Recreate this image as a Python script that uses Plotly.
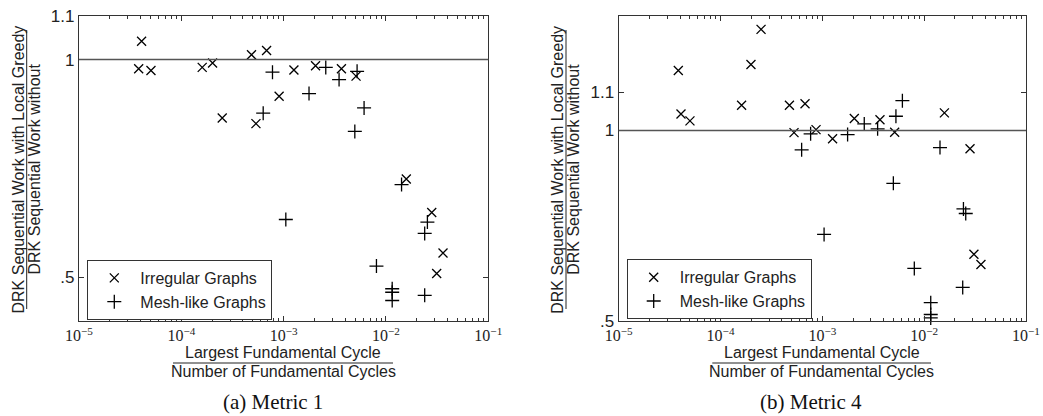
import plotly.graph_objects as go

# ---------------- data ----------------
# (a) Metric 1
a_irr_x = [4.09e-5, 3.83e-5, 5.05e-5, 1.60e-4, 2.02e-4, 2.51e-4, 4.85e-4, 6.81e-4, 5.36e-4,
           9.03e-4, 1.26e-3, 2.05e-3, 3.67e-3, 5.10e-3, 1.58e-2, 2.80e-2, 3.61e-2, 3.13e-2]
a_irr_y = [1.042, 0.979, 0.975, 0.982, 0.992, 0.866, 1.011, 1.021, 0.853,
           0.916, 0.976, 0.986, 0.979, 0.962, 0.726, 0.649, 0.556, 0.509]
a_mesh_x = [7.78e-4, 6.31e-4, 1.77e-3, 2.58e-3, 3.48e-3, 5.22e-3, 6.11e-3, 4.96e-3, 1.05e-3,
            1.42e-2, 2.54e-2, 2.39e-2, 8.07e-3, 1.15e-2, 1.15e-2, 1.15e-2, 2.39e-2]
a_mesh_y = [0.971, 0.877, 0.922, 0.982, 0.954, 0.973, 0.889, 0.835, 0.633,
            0.713, 0.627, 0.601, 0.526, 0.474, 0.466, 0.447, 0.459]

# (b) Metric 4
b_irr_x = [3.85e-5, 4.09e-5, 5.01e-5, 1.61e-4, 1.99e-4, 2.50e-4, 4.75e-4, 6.76e-4, 5.27e-4,
           8.67e-4, 1.26e-3, 2.06e-3, 3.68e-3, 5.13e-3, 1.58e-2, 2.82e-2, 3.08e-2, 3.61e-2]
b_irr_y = [1.157, 1.043, 1.025, 1.066, 1.173, 1.265, 1.066, 1.070, 0.994,
           1.002, 0.978, 1.031, 1.028, 0.995, 1.046, 0.952, 0.675, 0.648]
b_mesh_x = [7.67e-4, 6.26e-4, 1.77e-3, 2.58e-3, 3.49e-3, 5.28e-3, 6.11e-3, 4.98e-3, 1.04e-3,
            1.43e-2, 2.43e-2, 2.56e-2, 8.00e-3, 2.39e-2, 1.16e-2, 1.16e-2, 1.16e-2]
b_mesh_y = [0.991, 0.949, 0.989, 1.017, 1.004, 1.037, 1.078, 0.861, 0.727,
            0.955, 0.794, 0.782, 0.638, 0.588, 0.548, 0.517, 0.508]

x_tickvals = [1e-5, 1e-4, 1e-3, 1e-2, 1e-1]
x_ticktext = ["10<sup>\u22125</sup>", "10<sup>\u22124</sup>", "10<sup>\u22123</sup>",
              "10<sup>\u22122</sup>", "10<sup>\u22121</sup>"]
x_minor = [m * 10.0 ** e for e in range(-5, -1) for m in range(2, 10)]
y_tickvals = [0.5, 1.0, 1.1]
y_ticktext = [".5", "1", "1.1"]

series_names = ["Irregular Graphs", "Mesh-like Graphs"]
ytitle_num = "DRK Sequential Work with Local Greedy"
ytitle_den = "DRK Sequential Work without"
xtitle_num = "Largest Fundamental Cycle"
xtitle_den = "Number of Fundamental Cycles"
captions = ["(a) Metric 1", "(b) Metric 4"]

# ---------------- layout helpers ----------------
W, H = 1043, 416
SANS = "Liberation Sans, Arial, sans-serif"
SERIF = "Liberation Serif, Times New Roman, serif"
FRAME = "#333333"


def px(x):
    return x / W


def py(y):
    return 1 - y / H


fig = go.Figure()

mk_x = dict(symbol="x-thin-open", size=9, color="black", line=dict(width=1.3, color="black"))
mk_p = dict(symbol="cross-thin-open", size=10, color="black", line=dict(width=1.3, color="black"))

panels = [
    ("x", "y", "legend", a_irr_x, a_irr_y, a_mesh_x, a_mesh_y),
    ("x2", "y2", "legend2", b_irr_x, b_irr_y, b_mesh_x, b_mesh_y),
]
for xa, ya, lg, ix, iy, mx, my in panels:
    fig.add_trace(go.Scatter(x=ix, y=iy, mode="markers", marker=mk_x, name=series_names[0],
                             xaxis=xa, yaxis=ya, legend=lg, cliponaxis=False))
    fig.add_trace(go.Scatter(x=mx, y=my, mode="markers", marker=mk_p, name=series_names[1],
                             xaxis=xa, yaxis=ya, legend=lg, cliponaxis=False))

xdomains = [[px(79), px(488.3)], [px(618.7), px(1026)]]
ydomain = [py(321), py(16)]
yranges = [[0.4, 1.1], [0.5, 1.3]]

common_x = dict(type="log", range=[-5, -1], tickmode="array", tickvals=x_tickvals,
                ticktext=x_ticktext, ticks="inside", ticklen=5, tickwidth=1, tickcolor=FRAME,
                showline=True, linecolor=FRAME, linewidth=1.2, mirror="ticks", showgrid=False,
                zeroline=False, automargin=False,
                tickfont=dict(family=SERIF, size=16, color="#222"),
                minor=dict(tickmode="array", tickvals=x_minor, ticks="inside", ticklen=2.5,
                           tickwidth=1, tickcolor=FRAME, showgrid=False))
common_y = dict(tickmode="array", tickvals=y_tickvals, ticktext=y_ticktext, ticks="inside",
                ticklen=5, tickwidth=1, tickcolor=FRAME, showline=True, linecolor=FRAME,
                linewidth=1.2, mirror="ticks", showgrid=False, zeroline=False, automargin=False,
                tickfont=dict(family=SANS, size=17, color="#222"))

fig.update_layout(
    xaxis=dict(domain=xdomains[0], anchor="y", **common_x),
    yaxis=dict(domain=ydomain, anchor="x", range=yranges[0], **common_y),
    xaxis2=dict(domain=xdomains[1], anchor="y2", **common_x),
    yaxis2=dict(domain=ydomain, anchor="x2", range=yranges[1], **common_y),
)

legend_common = dict(xanchor="left", yanchor="top", bordercolor=FRAME, borderwidth=1,
                     bgcolor="white", font=dict(family=SANS, size=16, color="#222"),
                     itemwidth=42, tracegroupgap=0)
fig.update_layout(
    legend=dict(x=px(87.3), y=py(260), **legend_common),
    legend2=dict(x=px(626.7), y=py(259.3), **legend_common),
)

# reference line at 1
for xa, ya in [("x", "y"), ("x2", "y2")]:
    fig.add_shape(type="line", xref=f"{xa} domain", yref=ya, x0=0, x1=1, y0=1, y1=1,
                  line=dict(color="#555555", width=1.5))

ann = []
shapes = []
# y titles (fractions)
for num_x, line_x, den_x in [(18, 26.7, 34), (557.3, 566, 573.3)]:
    ann.append(dict(text=ytitle_num, x=px(num_x), y=py(169.5), xref="paper", yref="paper",
                    textangle=-90, showarrow=False, xanchor="center", yanchor="middle",
                    font=dict(family=SANS, size=16, color="#222")))
    ann.append(dict(text=ytitle_den, x=px(den_x), y=py(169.5), xref="paper", yref="paper",
                    textangle=-90, showarrow=False, xanchor="center", yanchor="middle",
                    font=dict(family=SANS, size=16, color="#222")))
    shapes.append(dict(type="line", xref="paper", yref="paper", x0=px(line_x), x1=px(line_x),
                       y0=py(30), y1=py(309), line=dict(color="#222", width=1)))
# x titles (fractions)
for cx, x0, x1 in [(283.3, 173, 393), (821.7, 712.3, 931)]:
    ann.append(dict(text=xtitle_num, x=px(cx), y=py(352.5), xref="paper", yref="paper",
                    showarrow=False, xanchor="center", yanchor="middle",
                    font=dict(family=SANS, size=16, color="#222")))
    ann.append(dict(text=xtitle_den, x=px(cx), y=py(371.5), xref="paper", yref="paper",
                    showarrow=False, xanchor="center", yanchor="middle",
                    font=dict(family=SANS, size=16, color="#222")))
    shapes.append(dict(type="line", xref="paper", yref="paper", x0=px(x0), x1=px(x1),
                       y0=py(363), y1=py(363), line=dict(color="#222", width=1)))
# captions
for cx, txt in zip([272.7, 811], captions):
    ann.append(dict(text=txt, x=px(cx), y=py(401.7), xref="paper", yref="paper",
                    showarrow=False, xanchor="center", yanchor="middle",
                    font=dict(family=SERIF, size=21, color="#111")))

for s in shapes:
    fig.add_shape(**s)
fig.update_layout(annotations=ann)

fig.update_layout(width=W, height=H, margin=dict(l=0, r=0, t=0, b=0, autoexpand=False),
                  paper_bgcolor="white", plot_bgcolor="white", showlegend=True)

fig.write_html("out.html")
